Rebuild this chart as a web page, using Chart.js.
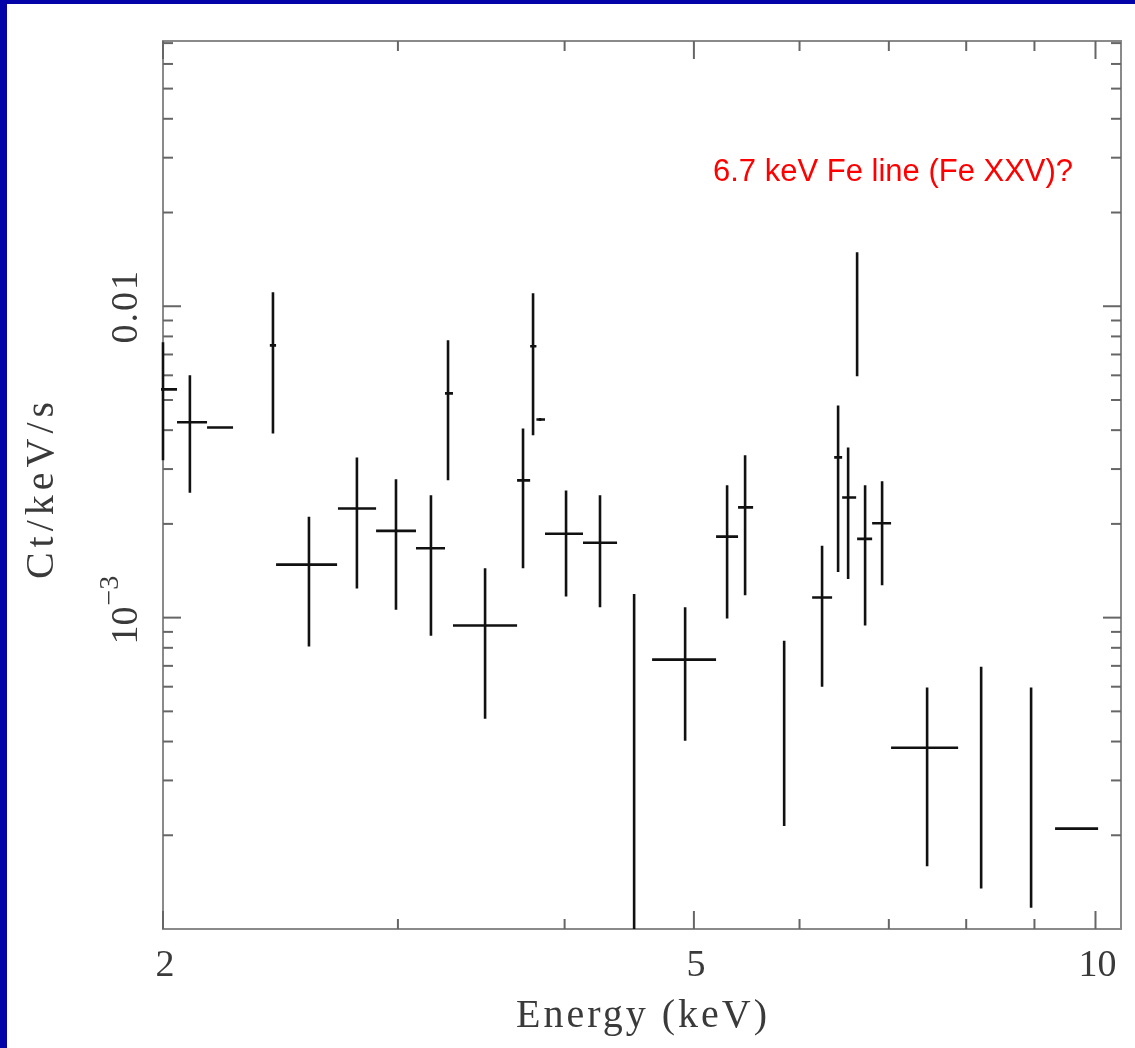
<!DOCTYPE html>
<html>
<head>
<meta charset="utf-8">
<script src="https://cdn.jsdelivr.net/npm/chart.js@4.4.1/dist/chart.umd.min.js"></script>
<style>
  html, body { margin: 0; padding: 0; background: #fff; }
  #wrap { width: 1135px; height: 1048px; }
</style>
</head>
<body>
<div id="wrap"><canvas id="spectrum" width="1135" height="1048"></canvas></div>
<script>
// spectrum bins (keV, counts/keV/s)
const energy   = [2.000, 2.095, 2.203, 2.418, 2.573, 2.795, 2.990, 3.176, 3.271, 3.487, 3.723, 3.788, 3.834, 4.010, 4.252,
                  4.510, 4.925, 5.295, 5.462, 5.843, 6.238, 6.413, 6.525, 6.627, 6.719, 6.919, 7.478, 8.209, 8.948, 9.687];
const energyLo = [1.956, 2.049, 2.158, 2.405, 2.431, 2.705, 2.889, 3.095, 3.254, 3.299, 3.685, 3.769, 3.810, 3.867, 4.129,
                  4.500, 4.652, 5.195, 5.396, 5.830, 6.132, 6.370, 6.458, 6.612, 6.627, 6.801, 7.027, 8.195, 8.935, 9.326];
const energyHi = [2.049, 2.158, 2.257, 2.431, 2.701, 2.889, 3.095, 3.254, 3.299, 3.685, 3.769, 3.810, 3.867, 4.129, 4.379,
                  4.520, 5.195, 5.396, 5.538, 5.856, 6.347, 6.458, 6.616, 6.642, 6.801, 7.027, 7.889, 8.223, 8.962, 10.045];
const rate     = [0.00541, 0.00424, 0.00408, 0.00749, 0.00148, 0.00224, 0.00190, 0.00167, 0.00525, 0.000943, 0.00276, 0.00744, 0.00433, 0.00186, 0.00174,
                  0.000456, 0.000733, 0.00182, 0.00226, 0.000529, 0.00116, 0.00327, 0.00243, 0.01053, 0.00179, 0.00201, 0.000382, 0.000411, 0.000355, 0.000210];
const rateLo   = [0.00320, 0.00252, 0.00404, 0.00390, 0.000807, 0.00124, 0.00106, 0.000875, 0.00276, 0.000473, 0.00144, 0.00385, 0.00428, 0.00117, 0.00108,
                  0.00009, 0.000402, 0.000993, 0.00118, 0.000214, 0.000600, 0.00140, 0.00133, 0.00596, 0.000943, 0.00127, 0.000159, 0.000135, 0.000117, 0.000208];
const rateHi   = [0.00766, 0.00600, 0.00412, 0.01109, 0.00211, 0.00327, 0.00278, 0.00247, 0.00777, 0.00144, 0.00405, 0.01101, 0.00438, 0.00256, 0.00247,
                  0.00119, 0.00108, 0.00266, 0.00332, 0.000843, 0.00170, 0.00480, 0.00352, 0.01491, 0.00266, 0.00274, 0.000596, 0.000696, 0.000596, 0.000212];

// axis ticks
const xMajorTicks = [2, 5, 10];
const xTickLabels = ["2", "5", "10"];
const xMinorTicks = [3, 4, 6, 7, 8, 9];
const yMajorTicks = [0.01, 0.001];
const yMinorTicks = [0.0002, 0.0003, 0.0004, 0.0005, 0.0006, 0.0007, 0.0008, 0.0009,
                     0.002, 0.003, 0.004, 0.005, 0.006, 0.007, 0.008, 0.009,
                     0.02, 0.03, 0.04, 0.05, 0.06, 0.07];

const points = energy.map((e, i) => ({
    x: e, y: rate[i],
    xMin: energyLo[i], xMax: energyHi[i],
    yMin: rateLo[i], yMax: rateHi[i]
}));

const SERIF = "'Liberation Serif', 'DejaVu Serif', serif";

const framePlugin = {
    id: "frame",
    beforeDraw(chart) {
        const ctx = chart.ctx;
        ctx.save();
        ctx.fillStyle = "#ffffff";
        ctx.fillRect(0, 0, chart.width, chart.height);
        ctx.fillStyle = "#0303a8";
        ctx.fillRect(0, 0, 7, chart.height);
        ctx.fillRect(0, 0, chart.width, 4);
        ctx.restore();
    },
    afterDatasetsDraw(chart) {
        const ctx = chart.ctx;
        const a = chart.chartArea;
        const xs = chart.scales.x, ys = chart.scales.y;

        // box and inward ticks
        ctx.save();
        ctx.strokeStyle = "#8a8a8a";
        ctx.lineWidth = 2;
        ctx.strokeRect(a.left, a.top, a.right - a.left, a.bottom - a.top);
        ctx.strokeStyle = "#666";
        const tick = (x1, y1, x2, y2) => { ctx.beginPath(); ctx.moveTo(x1, y1); ctx.lineTo(x2, y2); ctx.stroke(); };
        xMajorTicks.forEach(v => {
            const px = xs.getPixelForValue(v);
            tick(px, a.bottom, px, a.bottom - 18);
            tick(px, a.top, px, a.top + 18);
        });
        xMinorTicks.forEach(v => {
            const px = xs.getPixelForValue(v);
            tick(px, a.bottom, px, a.bottom - 10);
            tick(px, a.top, px, a.top + 10);
        });
        yMajorTicks.forEach(v => {
            const py = ys.getPixelForValue(v);
            tick(a.left, py, a.left + 18, py);
            tick(a.right, py, a.right - 18, py);
        });
        yMinorTicks.forEach(v => {
            const py = ys.getPixelForValue(v);
            tick(a.left, py, a.left + 10, py);
            tick(a.right, py, a.right - 10, py);
        });
        ctx.restore();

        // error crosses, drawn over the box
        ctx.save();
        ctx.beginPath();
        ctx.rect(a.left - 2, a.top, a.right - a.left + 2, a.bottom - a.top);
        ctx.clip();
        ctx.strokeStyle = "#111";
        ctx.lineWidth = 2.6;
        chart.data.datasets[0].data.forEach(p => {
            const px = xs.getPixelForValue(p.x), py = ys.getPixelForValue(p.y);
            ctx.beginPath();
            ctx.moveTo(xs.getPixelForValue(p.xMin), py);
            ctx.lineTo(xs.getPixelForValue(p.xMax), py);
            ctx.moveTo(px, ys.getPixelForValue(p.yMin));
            ctx.lineTo(px, ys.getPixelForValue(p.yMax));
            ctx.stroke();
        });
        ctx.restore();

        ctx.save();
        // tick labels
        ctx.fillStyle = "#3a3a3a";
        ctx.font = "38px " + SERIF;
        ctx.textAlign = "center";
        ctx.textBaseline = "alphabetic";
        xMajorTicks.forEach((v, i) => {
            ctx.fillText(xTickLabels[i], xs.getPixelForValue(v) + 2, a.bottom + 47);
        });

        // y labels, rotated
        let py = ys.getPixelForValue(0.01);
        ctx.save();
        ctx.translate(137, py);
        ctx.rotate(-Math.PI / 2);
        ctx.letterSpacing = "2px";
        ctx.fillText("0.01", 0, 0);
        ctx.restore();

        py = ys.getPixelForValue(0.001);
        ctx.save();
        ctx.translate(137, py - 7);
        ctx.rotate(-Math.PI / 2);
        ctx.textAlign = "left";
        ctx.font = "38px " + SERIF;
        const w10 = ctx.measureText("10").width;
        ctx.font = "28px " + SERIF;
        const w3 = ctx.measureText("\u22123").width;
        const start = -(w10 + w3) / 2;
        ctx.font = "38px " + SERIF;
        ctx.fillText("10", start, 0);
        ctx.font = "28px " + SERIF;
        ctx.fillText("\u22123", start + w10 + 1, -19);
        ctx.restore();

        // axis titles
        ctx.font = "40px " + SERIF;
        ctx.letterSpacing = "3px";
        ctx.textAlign = "center";
        ctx.fillText("Energy (keV)", 643, 1027);
        ctx.save();
        ctx.translate(53, 488);
        ctx.rotate(-Math.PI / 2);
        ctx.letterSpacing = "5px";
        ctx.fillText("Ct/keV/s", 0, 0);
        ctx.restore();

        // annotation
        ctx.letterSpacing = "0px";
        ctx.fillStyle = "#ff0000";
        ctx.font = "31px 'Liberation Sans', Arial, sans-serif";
        ctx.textAlign = "left";
        ctx.fillText("6.7 keV Fe line (Fe XXV)?", 713, 181);
        ctx.restore();
    }
};

new Chart(document.getElementById("spectrum").getContext("2d"), {
    type: "scatter",
    data: {
        datasets: [{
            label: "spectrum",
            data: points,
            pointRadius: 0,
            showLine: false
        }]
    },
    options: {
        responsive: false,
        animation: false,
        layout: { padding: { left: 163, top: 41, right: 14, bottom: 119 } },
        plugins: {
            legend: { display: false },
            tooltip: { enabled: false }
        },
        scales: {
            x: { type: "logarithmic", min: 2, max: 10.45, display: false },
            y: { type: "logarithmic", min: 0.0001, max: 0.0711, display: false }
        }
    },
    plugins: [framePlugin]
});
</script>
</body>
</html>
